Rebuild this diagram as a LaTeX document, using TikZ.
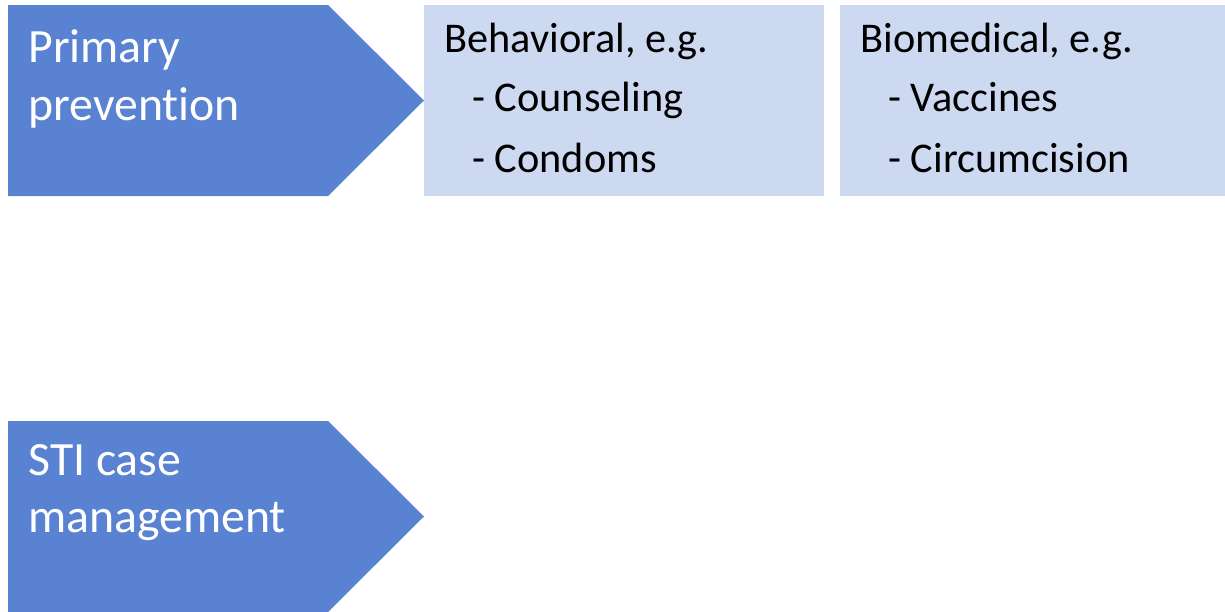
\documentclass[tikz,border=0pt]{standalone}
\usepackage{fontspec}
\setmainfont[Ligatures=NoCommon]{Carlito}
\definecolor{stepblue}{RGB}{90,130,211}
\definecolor{paleblue}{RGB}{205,216,241}
\tikzset{
  stepfill/.style={fill=stepblue},
  itemfill/.style={fill=paleblue},
  steptext/.style={anchor=base west, inner sep=0pt, text=white, font=\fontsize{27.2}{33}\selectfont},
  itemtext/.style={anchor=base west, inner sep=0pt, text=black, font=\fontsize{24.1}{29}\selectfont}
}
\begin{document}
\begin{tikzpicture}[line join=miter, x=0.02cm, y=-0.02cm]
  \useasboundingbox (0,0) rectangle (1225,612);
  % chevrons
  \fill[stepfill] (8,5) -- (328,5) -- (424,100.5) -- (328,196) -- (8,196) -- cycle;
  \fill[stepfill] (8,421) -- (328,421) -- (424,516.5) -- (328,612) -- (8,612) -- cycle;
  % boxes
  \fill[itemfill] (424,5) rectangle (824,196);
  \fill[itemfill] (840,5) rectangle (1225,196);
  % labels
  \node[steptext] (primary) at (28,62) {Primary};
  \node[steptext] (prevention) at (28,120) {prevention};
  \node[steptext] (sticase) at (28,475) {STI case};
  \node[steptext] (management) at (28,532) {management};
  \foreach \name/\x/\y/\txt in {behav/444/52/{Behavioral, e.g.}, couns/472/111/{- Counseling}, condo/472/172/{- Condoms},
                               biomed/860/52/{Biomedical, e.g.}, vacc/888/111/{- Vaccines}, circ/888/172/{- Circumcision}}
    \node[itemtext] (\name) at (\x,\y) {\txt};
\end{tikzpicture}
\end{document}
